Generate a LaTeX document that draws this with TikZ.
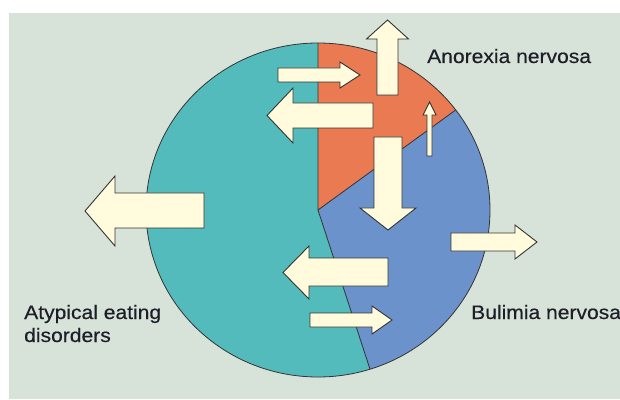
\documentclass[tikz,border=0pt]{standalone}
\usepackage{fontspec}
\usetikzlibrary{calc}
\setmainfont{Liberation Sans}[FakeStretch=1.08,FakeBold=0.4]
\definecolor{bgcol}{HTML}{D7E3D9}
\definecolor{tealc}{HTML}{53BBBB}
\definecolor{orangec}{HTML}{E97A52}
\definecolor{bluec}{HTML}{6B92CB}
\definecolor{creamc}{HTML}{FFFBDC}
\definecolor{edgec}{HTML}{333333}
\definecolor{txtc}{HTML}{1E1E28}
\begin{document}
\begin{tikzpicture}[x=1pt,y=1pt,
  sector/.style={draw=edgec,line width=0.8pt,line join=round},
  fatarrow/.style={fill=creamc,draw=edgec,line width=0.9pt,line join=miter},
  lbl/.style={font=\fontsize{19.5}{23}\selectfont,text=txtc,inner sep=0pt,align=left}]
\useasboundingbox (0,0) rectangle (620,399);
\fill[white] (0,0) rectangle (620,399);
\fill[bgcol] (9,0) rectangle (620,386);
\coordinate (C) at (318,189);
% sectors
\fill[tealc] (C) -- ($(C)+(-72.4:172 and 167)$) arc[start angle=-72.4,end angle=-270,x radius=172,y radius=167] -- cycle;
\fill[orangec] (C) -- ($(C)+(90:172 and 167)$) arc[start angle=90,end angle=36.8,x radius=172,y radius=167] -- cycle;
\fill[bluec] (C) -- ($(C)+(36.8:172 and 167)$) arc[start angle=36.8,end angle=-72.4,x radius=172,y radius=167] -- cycle;
\draw[sector] (C) ellipse[x radius=172,y radius=167];
\draw[sector] ($(C)+(90:172 and 167)$) -- (C) -- ($(C)+(36.8:172 and 167)$);
\draw[sector] (C) -- ($(C)+(-72.4:172 and 167)$);
% arrows
% 1 big up
\draw[fatarrow] (377,304) -- (377,360) -- (366.5,360) -- (387.5,379) -- (408.5,360) -- (398,360) -- (398,304) -- cycle;
% 2 top right
\draw[fatarrow] (278,317) -- (340,317) -- (340,311) -- (360,324) -- (340,337) -- (340,331) -- (278,331) -- cycle;
% 3 upper big left
\draw[fatarrow] (373,271) -- (293,271) -- (293,256) -- (267,283.5) -- (293,311) -- (293,296) -- (373,296) -- cycle;
% 4 small up
\draw[fatarrow] (427,243) -- (427,284) -- (423,284) -- (429.5,297) -- (436,284) -- (432,284) -- (432,243) -- cycle;
% 5 big down
\draw[fatarrow] (374,262) -- (374,191) -- (360,191) -- (388,169) -- (416,191) -- (402,191) -- (402,262) -- cycle;
% 6 far left
\draw[fatarrow] (204,171) -- (115,171) -- (115,153) -- (85,188) -- (115,223) -- (115,206) -- (204,206) -- cycle;
% 7 right side
\draw[fatarrow] (451,148) -- (515,148) -- (515,140) -- (537,157) -- (515,174) -- (515,166) -- (451,166) -- cycle;
% 8 lower big left
\draw[fatarrow] (388,113) -- (309,113) -- (309,100) -- (283,126.5) -- (309,153) -- (309,141) -- (388,141) -- cycle;
% 9 lower right
\draw[fatarrow] (310,72) -- (372,72) -- (372,65) -- (392,79) -- (372,93) -- (372,86) -- (310,86) -- cycle;
% labels
\node[lbl,anchor=base west] (an) at (427,336) {Anorexia nervosa};
\node[lbl,anchor=base west] (bu) at (471,80) {Bulimia nervosa};
\node[lbl,anchor=base west] (at) at (24,57) {Atypical eating\\disorders};
\end{tikzpicture}
\end{document}
